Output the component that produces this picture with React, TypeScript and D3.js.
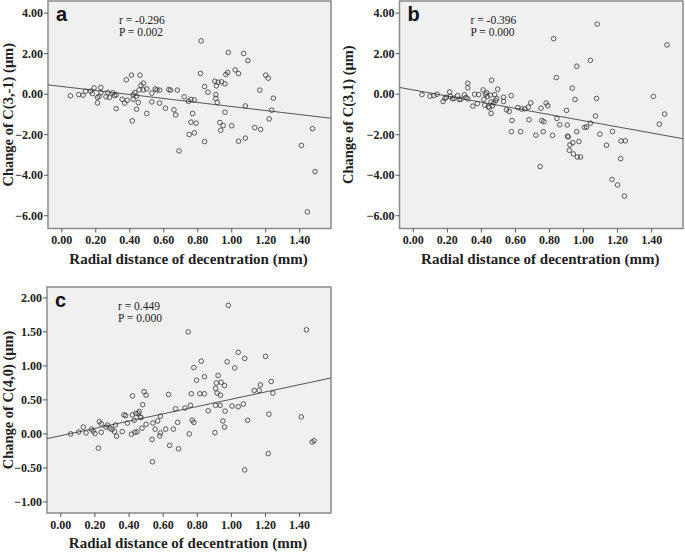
import * as d3 from 'd3'

// x = radial distance of decentration (mm), y = change of coefficient (µm)
const pointsA: [number, number][] = [
  [0.051, -0.08], [0.10, -0.02], [0.125, -0.05], [0.14, 0.15], [0.17, 0.15], [0.18, 0.03],
  [0.19, 0.31], [0.21, -0.16], [0.21, -0.43], [0.23, 0.33], [0.23, 0.07], [0.22, -0.1],
  [0.26, -0.13], [0.27, 0.08], [0.28, -0.16], [0.30, 0.07], [0.31, -0.07], [0.32, -0.03],
  [0.32, -0.71], [0.355, -0.25], [0.37, -0.44], [0.38, 0.71], [0.385, -0.3], [0.41, 0.94],
  [0.415, -1.32], [0.42, -0.25], [0.42, -0.03], [0.43, 0.08], [0.44, -0.1], [0.44, -0.74],
  [0.45, -0.41], [0.455, 0.21], [0.46, 0.94], [0.466, 0.44], [0.48, 0.54], [0.48, 0.21],
  [0.50, 0.26], [0.50, -0.95], [0.53, 0.05], [0.53, -0.38], [0.55, 0.26], [0.56, 0.21],
  [0.575, -0.44], [0.576, 0.2], [0.61, -0.69], [0.63, 0.23], [0.64, 0.2], [0.66, -0.77],
  [0.67, -1.02], [0.68, 0.2], [0.69, -2.8], [0.72, -0.13], [0.745, -0.35], [0.75, -1.99],
  [0.76, -0.26], [0.76, -1.38], [0.77, -0.95], [0.78, -1.91], [0.78, -0.28], [0.79, -1.43],
  [0.816, 1.02], [0.82, 2.63], [0.84, 0.38], [0.84, -2.34], [0.86, 0.1], [0.90, 0.64],
  [0.906, -0.02], [0.906, -0.21], [0.91, 0.41], [0.915, -0.41], [0.92, 0.59], [0.93, -1.4],
  [0.935, -1.78], [0.94, 0.61], [0.95, -1.55], [0.96, -0.89], [0.96, 0.51], [0.965, 0.97],
  [0.976, 1.07], [0.98, 2.06], [1.00, -1.56], [1.02, 1.2], [1.04, -2.32], [1.04, 1.02],
  [1.07, 2.01], [1.08, -0.58], [1.08, -2.17], [1.095, 1.66], [1.135, -1.65], [1.165, 0.2],
  [1.17, -1.74], [1.2, 0.94], [1.215, 0.79], [1.22, -1.22], [1.235, -0.79], [1.245, -0.2],
  [1.41, -2.53], [1.475, -1.7], [1.49, -3.82], [1.445, -5.81],
]

const pointsB: [number, number][] = [
  [0.051, -0.02], [0.098, -0.1], [0.12, -0.07], [0.14, 0.0], [0.175, -0.36], [0.186, -0.21],
  [0.194, -0.15], [0.214, 0.11], [0.218, -0.11], [0.23, -0.23], [0.24, -0.2], [0.26, -0.07],
  [0.27, -0.26], [0.28, -0.25], [0.30, -0.03], [0.31, -0.16], [0.32, -0.23], [0.32, 0.54],
  [0.32, 0.31], [0.35, -0.59], [0.36, 0.0], [0.376, -0.46], [0.384, -0.02], [0.41, 0.21],
  [0.414, -0.25], [0.42, -0.54], [0.424, 0.0], [0.43, 0.08], [0.435, -0.11], [0.44, -0.61],
  [0.447, -0.67], [0.453, -0.05], [0.457, -0.38], [0.46, 0.69], [0.457, -0.95], [0.465, -0.57],
  [0.473, -0.43], [0.478, -0.02], [0.484, -0.31], [0.496, 0.25], [0.49, -0.21], [0.53, -0.15],
  [0.53, -0.36], [0.547, -0.77], [0.563, -0.85], [0.575, -0.07], [0.58, -1.3], [0.576, -1.85],
  [0.614, -0.66], [0.63, -1.85], [0.637, -0.74], [0.655, -0.72], [0.675, -0.64], [0.68, -1.26],
  [0.69, -0.43], [0.72, -2.02], [0.745, -3.57], [0.75, -0.69], [0.755, -1.3], [0.763, -1.85],
  [0.767, -1.36], [0.78, -0.44], [0.79, -0.57], [0.818, -2.03], [0.824, 2.74], [0.84, 0.82],
  [0.843, -1.2], [0.86, -1.51], [0.90, -0.8], [0.904, -1.52], [0.906, -2.07], [0.91, -2.11],
  [0.916, -2.77], [0.92, -2.5], [0.933, 0.3], [0.937, -2.39], [0.94, -2.95], [0.95, -0.26],
  [0.96, 1.38], [0.96, -1.85], [0.963, -3.1], [0.973, -2.34], [0.982, -3.1], [1.006, -1.64],
  [1.018, -1.62], [1.04, 1.67], [1.04, -1.43], [1.07, -1.08], [1.08, 3.46], [1.076, -0.21],
  [1.096, -1.97], [1.135, -2.52], [1.167, -4.21], [1.17, -1.84], [1.2, -4.48], [1.218, -3.18],
  [1.22, -2.31], [1.24, -5.03], [1.245, -2.3], [1.41, -0.11], [1.445, -1.48], [1.476, -0.98],
  [1.49, 2.43],
]

const pointsC: [number, number][] = [
  [0.058, 0.0], [0.105, 0.03], [0.132, 0.1], [0.148, 0.015], [0.18, 0.07], [0.19, 0.04],
  [0.20, 0.005], [0.22, -0.21], [0.226, 0.18], [0.237, 0.15], [0.237, 0.025], [0.265, 0.1],
  [0.274, 0.13], [0.288, 0.085], [0.30, 0.064], [0.315, 0.034], [0.32, 0.13], [0.327, -0.034],
  [0.36, 0.034], [0.37, 0.28], [0.38, 0.27], [0.39, 0.16], [0.414, -0.005], [0.42, 0.56],
  [0.42, 0.28], [0.43, 0.2], [0.434, 0.025], [0.44, 0.3], [0.447, 0.03], [0.453, 0.305],
  [0.46, 0.33], [0.465, 0.25], [0.47, 0.24], [0.476, 0.084], [0.48, 0.43], [0.488, 0.62],
  [0.50, 0.57], [0.50, 0.14], [0.535, -0.08], [0.537, -0.41], [0.54, 0.16], [0.553, 0.07],
  [0.568, 0.19], [0.58, -0.03], [0.584, 0.015], [0.584, 0.26], [0.615, 0.07], [0.632, 0.58],
  [0.638, -0.17], [0.66, 0.07], [0.673, 0.37], [0.685, 0.17], [0.69, -0.22], [0.728, 0.38],
  [0.747, 1.5], [0.753, 0.0], [0.76, 0.42], [0.765, 0.59], [0.77, 0.2], [0.78, 0.17],
  [0.78, 0.975], [0.796, 0.79], [0.815, 0.59], [0.823, 1.07], [0.842, 0.59], [0.842, 0.84],
  [0.864, 0.34], [0.903, 0.02], [0.907, 0.67], [0.907, 0.42], [0.912, 0.75], [0.916, 0.6],
  [0.922, 0.86], [0.934, 0.42], [0.936, 0.57], [0.94, 0.76], [0.95, 0.19], [0.96, 0.1],
  [0.96, 0.71], [0.963, 0.335], [0.975, 1.06], [0.982, 1.89], [1.004, 0.41], [1.02, 0.97],
  [1.04, 0.4], [1.04, 1.2], [1.07, 0.44], [1.078, 1.11], [1.078, -0.53], [1.095, 0.2],
  [1.134, 0.64], [1.163, 0.64], [1.17, 0.72], [1.2, 1.14], [1.216, -0.29], [1.22, 0.29],
  [1.233, 0.77], [1.243, 0.6], [1.41, 0.25], [1.44, 1.53], [1.473, -0.12], [1.485, -0.1],
]

// fit lines: [intercept, slope]
const fitA = [0.38, -0.99]
const fitB = [0.21, -1.52]
const fitC = [-0.026, 0.536]

const xTicks = [0, 0.2, 0.4, 0.6, 0.8, 1.0, 1.2, 1.4]
const yTicksAB = [4, 2, 0, -2, -4, -6]
const yTicksC = [2, 1.5, 1, 0.5, 0, -0.5, -1]

const xTitle = 'Radial distance of decentration (mm)'
const SERIF = '"Liberation Serif", "Times New Roman", serif'
const SANS = '"Liberation Sans", Arial, sans-serif'

interface IPanelProps {
  left: number, top: number, right: number, bottom: number,
  yDomain: [number, number],
  yTicks: number[],
  points: [number, number][],
  fit: number[],
  letter: string,
  stats: string[],
  yTitle: string,
  yTitleX: number,
}

const Panel = (props: IPanelProps) => {
  const { left, top, right, bottom, yDomain, yTicks, points, fit, letter, stats, yTitle, yTitleX } = props
  const x = d3.scaleLinear().domain([-0.081, 1.584]).range([left, right])
  const y = d3.scaleLinear().domain(yDomain).range([bottom, top])
  const fmt = d3.format('.2f')
  const [x0, x1] = x.domain()
  const line = d3.line<number>().x(d => x(d)).y(d => y(fit[0] + fit[1] * d))

  return <g>
    <rect x={left} y={top} width={right - left} height={bottom - top} fill="#f0f0f0" stroke="#8a8a8a" strokeWidth={1.5} />
    <defs>
      <clipPath id={'clip-' + letter}>
        <rect x={left} y={top} width={right - left} height={bottom - top} />
      </clipPath>
    </defs>
    {yTicks.map(t => <g key={'y' + t}>
      <line x1={left - 4} x2={left} y1={y(t)} y2={y(t)} stroke="#555" />
      <text x={left - 5} y={y(t)} dy="0.35em" textAnchor="end" fontFamily={SERIF} fontWeight="bold" fontSize={12} fill="#222">{fmt(t)}</text>
    </g>)}
    {xTicks.map(t => <g key={'x' + t}>
      <line x1={x(t)} x2={x(t)} y1={bottom} y2={bottom + 4} stroke="#555" />
      <text x={x(t)} y={bottom + 15.5} textAnchor="middle" fontFamily={SERIF} fontWeight="bold" fontSize={12} fill="#222">{fmt(t)}</text>
    </g>)}
    <g clipPath={`url(#clip-${letter})`}>
      <path d={line([x0, x1]) || ''} fill="none" stroke="#555" strokeWidth={1} />
      {points.map((p, i) => <circle key={i} cx={x(p[0])} cy={y(p[1])} r={2.3} fill="none" stroke="#333" strokeWidth={0.8} />)}
    </g>
    <text x={left + 8} y={top + 20} fontFamily={SANS} fontWeight="bold" fontSize={20} fill="#111">{letter}</text>
    <text x={left + 71} y={top + 22.5} fontFamily={SERIF} fontSize={11.5} fill="#222">{stats[0]}</text>
    <text x={left + 71} y={top + 35} fontFamily={SERIF} fontSize={11.5} fill="#222">{stats[1]}</text>
    <text transform={`translate(${yTitleX},${(top + bottom) / 2}) rotate(-90)`} textAnchor="middle" fontFamily={SERIF} fontWeight="bold" fontSize={14.5} fill="#222">{yTitle}</text>
    <text x={(left + right) / 2 - 1} y={bottom + 35} textAnchor="middle" fontFamily={SERIF} fontWeight="bold" fontSize={15} fill="#222">{xTitle}</text>
  </g>
}

export default function App() {
  return <svg width={685} height={553} style={{ position: 'absolute', left: 0, top: 0, background: '#fff' }}>
    <Panel left={48} top={1} right={331} bottom={228.5} yDomain={[-6.63, 4.6]} yTicks={yTicksAB}
      points={pointsA} fit={fitA} letter="a" stats={['r = -0.296', 'P = 0.002']}
      yTitle="Change of C(3,-1)  (μm)" yTitleX={13} />
    <Panel left={399.5} top={1} right={683} bottom={228.5} yDomain={[-6.63, 4.6]} yTicks={yTicksAB}
      points={pointsB} fit={fitB} letter="b" stats={['r = -0.396', 'P = 0.000']}
      yTitle="Change of C(3,1)  (μm)" yTitleX={353} />
    <Panel left={47} top={287} right={331} bottom={513} yDomain={[-1.163, 2.16]} yTicks={yTicksC}
      points={pointsC} fit={fitC} letter="c" stats={['r = 0.449', 'P = 0.000']}
      yTitle="Change of C(4,0)  (μm)" yTitleX={13} />
  </svg>
}
